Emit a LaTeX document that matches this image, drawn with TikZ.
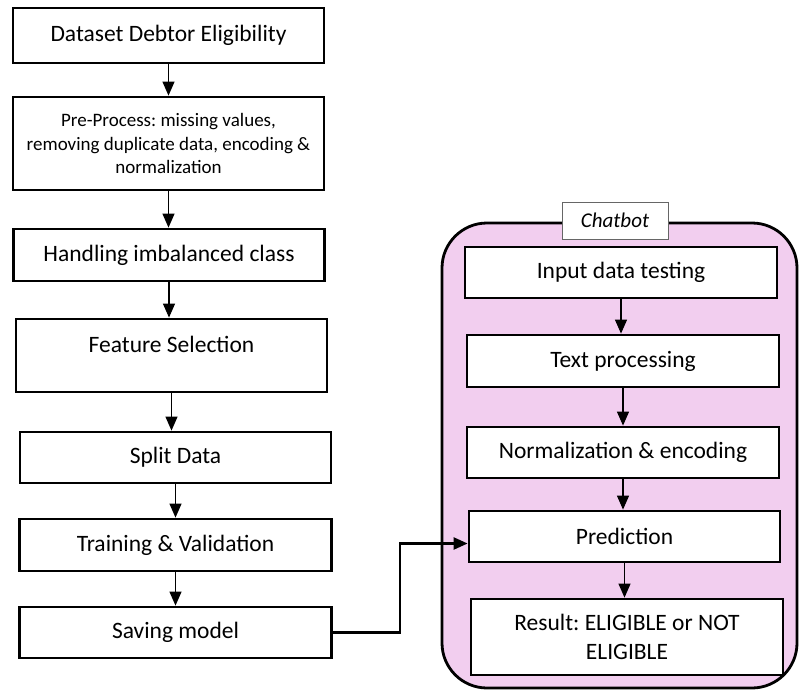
\documentclass[tikz,border=0pt]{standalone}
\usepackage{fontspec}
\setmainfont{Carlito}
\frenchspacing
\usetikzlibrary{arrows.meta,positioning}
\definecolor{chatpink}{RGB}{242,206,239}

\begin{document}
\begin{tikzpicture}[x=1pt, y=-1pt,
    stepbox/.style={rectangle, draw, line width=2.8pt, fill=white, minimum width=311pt,
                    inner sep=4pt, align=center, font=\fontsize{23.5}{29}\selectfont},
    flow/.style={-{Triangle[width=12pt,length=14pt]}, line width=1.2pt},
    link/.style={-{Triangle[width=12pt,length=14pt]}, line width=2.4pt},
    container/.style={rectangle, draw, line width=2.8pt, fill=chatpink, rounded corners=45pt,
                      minimum width=355pt, minimum height=465pt}
]
    \useasboundingbox (0,0) rectangle (805,690);

    % Chatbot frame
    \node[container] (chatbot) at (619.5,455.5) {};
    \node[rectangle, draw=black!60, line width=0.8pt, fill=white, minimum width=106pt,
          minimum height=37pt, font=\fontsize{21}{24}\selectfont\itshape] (chattag) at (615,220.5) {Chatbot};

    % Training pipeline
    \node[stepbox, minimum height=55pt] (ds) at (168.5,35.5) {Dataset Debtor Eligibility};
    \node[stepbox, minimum height=93pt, font=\fontsize{19}{23.3}\selectfont] (pre) at (168.5,143.5)
        {Pre-Process: missing values,\\removing duplicate data, encoding \&\\normalization};
    \node[stepbox, minimum height=52pt] (imb) at (169,255) {Handling imbalanced class};
    \node[stepbox, minimum height=73pt, text depth=22pt] (feat) at (171.5,355.5) {Feature Selection};
    \node[stepbox, minimum height=51pt] (split) at (175.5,457.5) {Split Data};
    \node[stepbox, minimum height=52pt, minimum width=312pt] (train) at (175.5,545) {Training \& Validation};
    \node[stepbox, minimum height=51pt, minimum width=312pt] (save) at (175.5,632.5) {Saving model};

    % Chatbot steps
    \node[stepbox, minimum height=51pt, minimum width=312pt] (input) at (621,272.5) {Input data testing};
    \node[stepbox, minimum height=52pt, minimum width=312pt] (text) at (623,361) {Text processing};
    \node[stepbox, minimum height=51pt, minimum width=312pt] (norm) at (623,452.5) {Normalization \& encoding};
    \node[stepbox, minimum height=51pt] (pred) at (624.5,536.5) {Prediction};
    \node[stepbox, minimum height=76pt, minimum width=312pt] (result) at (627,637) {Result: ELIGIBLE or NOT\\ELIGIBLE};

    % Arrows
    \foreach \a/\b in {ds/pre, pre/imb, imb/feat, feat/split, split/train, train/save,
                       input/text, text/norm, norm/pred, pred/result} {
        \draw[flow] (\a.south) -- (\a.south |- \b.north);
    }
    \draw[link] (save.east) -- ++(67,0) |- ([yshift=-7pt]pred.west);
\end{tikzpicture}
\end{document}
